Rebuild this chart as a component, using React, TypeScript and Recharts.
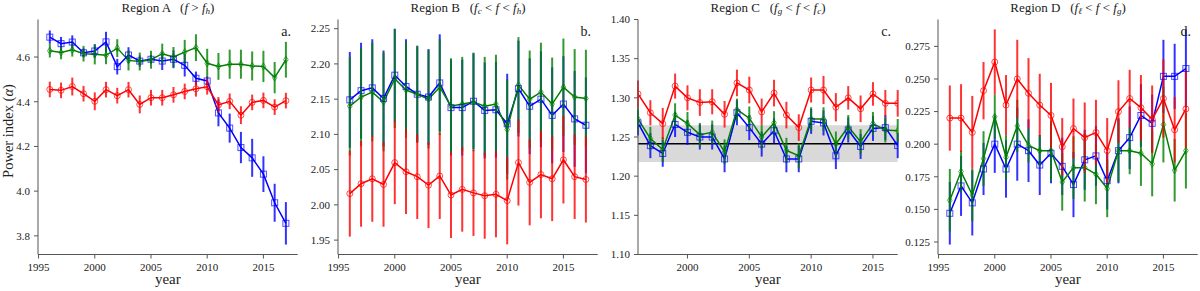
import React from "react"
import {
  ComposedChart,
  Line,
  XAxis,
  YAxis,
  ErrorBar,
  ReferenceArea,
  ReferenceLine,
} from "recharts"

// years shared by every panel
const years = [1996, 1997, 1998, 1999, 2000, 2001, 2002, 2003, 2004, 2005, 2006, 2007, 2008, 2009, 2010, 2011, 2012, 2013, 2014, 2015, 2016, 2017]

// Region A
const aBlue = [4.689, 4.66, 4.667, 4.619, 4.627, 4.668, 4.557, 4.609, 4.582, 4.59, 4.582, 4.59, 4.563, 4.505, 4.493, 4.35, 4.282, 4.195, 4.149, 4.076, 3.948, 3.856]
const aBlueErr = [0.03, 0.03, 0.03, 0.02, 0.03, 0.045, 0.035, 0.035, 0.025, 0.02, 0.04, 0.04, 0.05, 0.03, 0.02, 0.06, 0.065, 0.07, 0.085, 0.08, 0.085, 0.095]
const aGreen = [4.628, 4.62, 4.632, 4.615, 4.612, 4.608, 4.64, 4.585, 4.58, 4.588, 4.615, 4.6, 4.622, 4.642, 4.572, 4.558, 4.568, 4.568, 4.56, 4.558, 4.508, 4.588]
const aGreenErr = [0.03, 0.03, 0.03, 0.035, 0.045, 0.04, 0.04, 0.045, 0.04, 0.04, 0.045, 0.045, 0.055, 0.06, 0.065, 0.06, 0.065, 0.065, 0.065, 0.07, 0.07, 0.08]
const aRed = [4.455, 4.451, 4.468, 4.436, 4.402, 4.454, 4.427, 4.454, 4.388, 4.418, 4.418, 4.431, 4.446, 4.458, 4.467, 4.386, 4.402, 4.34, 4.397, 4.406, 4.376, 4.405]
const aRedErr = [0.035, 0.035, 0.04, 0.035, 0.04, 0.035, 0.035, 0.035, 0.04, 0.035, 0.035, 0.035, 0.035, 0.035, 0.035, 0.035, 0.035, 0.04, 0.035, 0.035, 0.035, 0.035]

// Region B
const bBlue = [2.149, 2.162, 2.166, 2.151, 2.184, 2.168, 2.157, 2.153, 2.173, 2.138, 2.138, 2.147, 2.134, 2.135, 2.115, 2.165, 2.14, 2.15, 2.127, 2.143, 2.122, 2.113]
const bBlueErr = [0.068, 0.068, 0.069, 0.068, 0.066, 0.067, 0.068, 0.068, 0.069, 0.068, 0.068, 0.068, 0.068, 0.068, 0.071, 0.068, 0.068, 0.068, 0.068, 0.068, 0.068, 0.068]
const bGreen = [2.14, 2.153, 2.16, 2.146, 2.179, 2.163, 2.157, 2.15, 2.167, 2.14, 2.143, 2.146, 2.14, 2.143, 2.107, 2.17, 2.15, 2.16, 2.143, 2.167, 2.153, 2.151]
const bGreenErr = [0.07, 0.07, 0.07, 0.07, 0.07, 0.068, 0.069, 0.07, 0.068, 0.068, 0.067, 0.07, 0.07, 0.07, 0.071, 0.068, 0.069, 0.07, 0.066, 0.069, 0.068, 0.069]
const bRed = [2.016, 2.03, 2.037, 2.029, 2.06, 2.047, 2.04, 2.028, 2.041, 2.014, 2.022, 2.017, 2.013, 2.015, 2.006, 2.06, 2.032, 2.043, 2.037, 2.064, 2.04, 2.036]
const bRedErr = [0.061, 0.061, 0.061, 0.06, 0.059, 0.06, 0.06, 0.061, 0.061, 0.061, 0.06, 0.061, 0.061, 0.061, 0.062, 0.061, 0.061, 0.062, 0.06, 0.062, 0.06, 0.061]

// Region C
const cBlue = [1.268, 1.239, 1.229, 1.266, 1.256, 1.25, 1.25, 1.222, 1.281, 1.262, 1.241, 1.258, 1.222, 1.222, 1.27, 1.268, 1.226, 1.259, 1.238, 1.261, 1.262, 1.239]
const cBlueErr = [0.016, 0.016, 0.017, 0.016, 0.016, 0.016, 0.016, 0.017, 0.016, 0.016, 0.016, 0.016, 0.017, 0.017, 0.016, 0.016, 0.017, 0.016, 0.016, 0.016, 0.016, 0.016]
const cGreen = [1.273, 1.248, 1.234, 1.278, 1.267, 1.253, 1.256, 1.231, 1.285, 1.274, 1.25, 1.268, 1.233, 1.226, 1.273, 1.273, 1.241, 1.263, 1.244, 1.267, 1.259, 1.258]
const cGreenErr = [0.015, 0.015, 0.016, 0.015, 0.015, 0.015, 0.015, 0.016, 0.014, 0.015, 0.015, 0.015, 0.016, 0.016, 0.015, 0.015, 0.016, 0.015, 0.016, 0.015, 0.016, 0.015]
const cRed = [1.305, 1.281, 1.267, 1.315, 1.3, 1.294, 1.295, 1.279, 1.319, 1.31, 1.282, 1.306, 1.278, 1.262, 1.31, 1.31, 1.288, 1.3, 1.286, 1.305, 1.293, 1.293]
const cRedErr = [0.017, 0.016, 0.02, 0.016, 0.016, 0.017, 0.016, 0.017, 0.017, 0.017, 0.017, 0.017, 0.017, 0.017, 0.016, 0.018, 0.018, 0.015, 0.017, 0.015, 0.017, 0.017]

// Region D
const dBlue = [0.147, 0.168, 0.155, 0.181, 0.2, 0.181, 0.2, 0.195, 0.184, 0.193, 0.183, 0.169, 0.188, 0.191, 0.172, 0.195, 0.205, 0.222, 0.216, 0.252, 0.252, 0.258]
const dBlueErr = [0.024, 0.023, 0.025, 0.02, 0.022, 0.022, 0.028, 0.024, 0.023, 0.023, 0.022, 0.025, 0.023, 0.023, 0.022, 0.025, 0.024, 0.024, 0.022, 0.028, 0.025, 0.03]
const dGreen = [0.157, 0.179, 0.161, 0.189, 0.221, 0.19, 0.214, 0.199, 0.195, 0.195, 0.171, 0.182, 0.182, 0.177, 0.166, 0.195, 0.195, 0.193, 0.185, 0.215, 0.18, 0.195]
const dGreenErr = [0.024, 0.016, 0.02, 0.021, 0.017, 0.017, 0.02, 0.013, 0.012, 0.023, 0.022, 0.024, 0.026, 0.023, 0.022, 0.024, 0.018, 0.025, 0.025, 0.029, 0.024, 0.029]
const dRed = [0.22, 0.22, 0.209, 0.241, 0.263, 0.23, 0.25, 0.239, 0.23, 0.222, 0.198, 0.212, 0.205, 0.209, 0.195, 0.225, 0.235, 0.228, 0.219, 0.235, 0.211, 0.227]
const dRedErr = [0.025, 0.026, 0.028, 0.022, 0.025, 0.023, 0.03, 0.027, 0.024, 0.025, 0.022, 0.023, 0.027, 0.025, 0.025, 0.024, 0.022, 0.025, 0.026, 0.03, 0.025, 0.03]

const FONT = "'Liberation Serif', 'DejaVu Serif', serif"
const BLUE = "#0000ff"
const GREEN = "#008000"
const RED = "#ff0000"
const SPINE = "#555"
const INK = "#222"

function buildRows(blue: number[], blueErr: number[], green: number[], greenErr: number[], red: number[], redErr: number[]) {
  return years.map((year, i) => ({
    year,
    blue: blue[i],
    blueErr: blueErr[i],
    green: green[i],
    greenErr: greenErr[i],
    red: red[i],
    redErr: redErr[i],
  }))
}

// hollow markers like matplotlib's fillstyle="none"
const squareDot = (props: any) => {
  const { cx, cy, index } = props
  return <rect key={`s-${index}`} x={cx - 3} y={cy - 3} width={6} height={6} fill="none" stroke={BLUE} strokeOpacity={0.7} strokeWidth={1} />
}
const diamondDot = (props: any) => {
  const { cx, cy, index } = props
  return (
    <path
      key={`d-${index}`}
      d={`M${cx},${cy - 3.5} L${cx + 2.3},${cy} L${cx},${cy + 3.5} L${cx - 2.3},${cy} Z`}
      fill="none"
      stroke={GREEN}
      strokeOpacity={0.7}
      strokeWidth={1}
    />
  )
}
const circleDot = (props: any) => {
  const { cx, cy, index } = props
  return <circle key={`c-${index}`} cx={cx} cy={cy} r={3} fill="none" stroke={RED} strokeOpacity={0.7} strokeWidth={1} />
}

// serif tick labels drawn by hand so the font sticks
const XTick = (props: any) => {
  const { x, y, payload } = props
  return (
    <text x={x} y={y} dy={9} textAnchor="middle" fontFamily={FONT} fontSize={11} fill={INK}>
      {payload.value}
    </text>
  )
}
const makeYTick = (digits: number) => (props: any) => {
  const { x, y, payload } = props
  return (
    <text x={x} y={y} dy={3.8} textAnchor="end" fontFamily={FONT} fontSize={11} fill={INK}>
      {Number(payload.value).toFixed(digits)}
    </text>
  )
}

type PanelProps = {
  left: number
  title: React.ReactNode
  letter: string
  rows: ReturnType<typeof buildRows>
  xDomain: [number, number]
  xTicks: number[]
  yDomain: [number, number]
  yTicks: number[]
  digits: number
  band?: boolean
}

const sub = (s: string) => <sub style={{ fontSize: 9, verticalAlign: "-2px" }}>{s}</sub>

function Panel({ left, title, letter, rows, xDomain, xTicks, yDomain, yTicks, digits, band }: PanelProps) {
  return (
    <div style={{ position: "absolute", left, top: 0, width: 300, height: 291, fontFamily: FONT }}>
      <div
        style={{
          position: "absolute",
          left: 38,
          width: 260,
          top: 0,
          textAlign: "center",
          fontFamily: FONT,
          fontWeight: 400,
          fontSize: 13,
          color: INK,
          lineHeight: "16px",
          whiteSpace: "pre",
        }}
      >
        {title}
      </div>
      <ComposedChart
        width={300}
        height={291}
        data={rows}
        margin={{ top: 19.5, right: 2.3, bottom: 6.5, left: 0 }}
        style={{ fontFamily: FONT }}
      >
        {band && <ReferenceArea y1={1.218} y2={1.265} fill="#d9d9d9" fillOpacity={1} stroke="none" />}
        {band && <ReferenceLine y={1.2415} stroke="#000" strokeWidth={1.5} />}
        <XAxis
          dataKey="year"
          type="number"
          domain={xDomain}
          ticks={xTicks}
          allowDataOverflow
          height={30}
          tickSize={4}
          tickMargin={3}
          tick={XTick}
          stroke={SPINE}
          tickLine={{ stroke: SPINE }}
          label={{ value: "year", position: "insideBottom", offset: 1, style: { fontFamily: FONT, fontSize: 15, fill: INK } }}
        />
        <XAxis xAxisId="top" orientation="top" type="number" domain={xDomain} height={0} tick={false} tickLine={false} stroke={SPINE} />
        <YAxis
          type="number"
          domain={yDomain}
          ticks={yTicks}
          allowDataOverflow
          width={38}
          tickSize={4}
          tickMargin={4}
          tick={makeYTick(digits)}
          stroke={SPINE}
        />
        <YAxis yAxisId="right" orientation="right" type="number" domain={yDomain} width={0} tick={false} tickLine={false} stroke={SPINE} />
        <Line dataKey="blue" stroke={BLUE} strokeWidth={1.5} dot={squareDot} activeDot={false} isAnimationActive={false}>
          <ErrorBar dataKey="blueErr" direction="y" width={0} stroke={BLUE} strokeWidth={2} strokeOpacity={0.8} />
        </Line>
        <Line dataKey="green" stroke={GREEN} strokeWidth={1.5} dot={diamondDot} activeDot={false} isAnimationActive={false}>
          <ErrorBar dataKey="greenErr" direction="y" width={0} stroke={GREEN} strokeWidth={2} strokeOpacity={0.8} />
        </Line>
        <Line dataKey="red" stroke={RED} strokeWidth={1.5} dot={circleDot} activeDot={false} isAnimationActive={false}>
          <ErrorBar dataKey="redErr" direction="y" width={0} stroke={RED} strokeWidth={2} strokeOpacity={0.8} />
        </Line>
      </ComposedChart>
      <div style={{ position: "absolute", right: 9, top: 24, fontFamily: FONT, fontSize: 14, color: INK }}>{letter}</div>
    </div>
  )
}

const fullYears: [number, number] = [1994.95, 2018.05]
const yearTicks = [1995, 2000, 2005, 2010, 2015]

export default function App() {
  return (
    <div style={{ position: "fixed", left: 0, top: 0, width: 1200, height: 291, background: "#fff", overflow: "hidden", fontFamily: FONT }}>
      <Panel
        left={0}
        title={<>Region A   (<i>f</i> &gt; <i>f{sub("h")}</i>)</>}
        letter="a."
        rows={buildRows(aBlue, aBlueErr, aGreen, aGreenErr, aRed, aRedErr)}
        xDomain={fullYears}
        xTicks={yearTicks}
        yDomain={[3.7165, 4.768]}
        yTicks={[3.8, 4.0, 4.2, 4.4, 4.6]}
        digits={1}
      />
      <div
        style={{
          position: "absolute",
          left: 8,
          top: 131,
          transform: "translate(-50%, -50%) rotate(-90deg)",
          fontFamily: FONT,
          fontSize: 14.5,
          color: INK,
          whiteSpace: "nowrap",
        }}
      >
        Power index (<i>α</i>)
      </div>
      <Panel
        left={300}
        title={<>Region B   (<i>f{sub("c")}</i> &lt; <i>f</i> &lt; <i>f{sub("h")}</i>)</>}
        letter="b."
        rows={buildRows(bBlue, bBlueErr, bGreen, bGreenErr, bRed, bRedErr)}
        xDomain={fullYears}
        xTicks={yearTicks}
        yDomain={[1.9296, 2.263]}
        yTicks={[1.95, 2.0, 2.05, 2.1, 2.15, 2.2, 2.25]}
        digits={2}
      />
      <Panel
        left={600}
        title={<>Region C   (<i>f{sub("g")}</i> &lt; <i>f</i> &lt; <i>f{sub("c")}</i>)</>}
        letter="c."
        rows={buildRows(cBlue, cBlueErr, cGreen, cGreenErr, cRed, cRedErr)}
        xDomain={[1996, 2017]}
        xTicks={[2000, 2005, 2010, 2015]}
        yDomain={[1.1, 1.4]}
        yTicks={[1.1, 1.15, 1.2, 1.25, 1.3, 1.35, 1.4]}
        digits={2}
        band
      />
      <Panel
        left={900}
        title={<>Region D   (<i>f{sub("ℓ")}</i> &lt; <i>f</i> &lt; <i>f{sub("g")}</i>)</>}
        letter="d."
        rows={buildRows(dBlue, dBlueErr, dGreen, dGreenErr, dRed, dRedErr)}
        xDomain={fullYears}
        xTicks={yearTicks}
        yDomain={[0.1154, 0.2956]}
        yTicks={[0.125, 0.15, 0.175, 0.2, 0.225, 0.25, 0.275]}
        digits={3}
      />
    </div>
  )
}
